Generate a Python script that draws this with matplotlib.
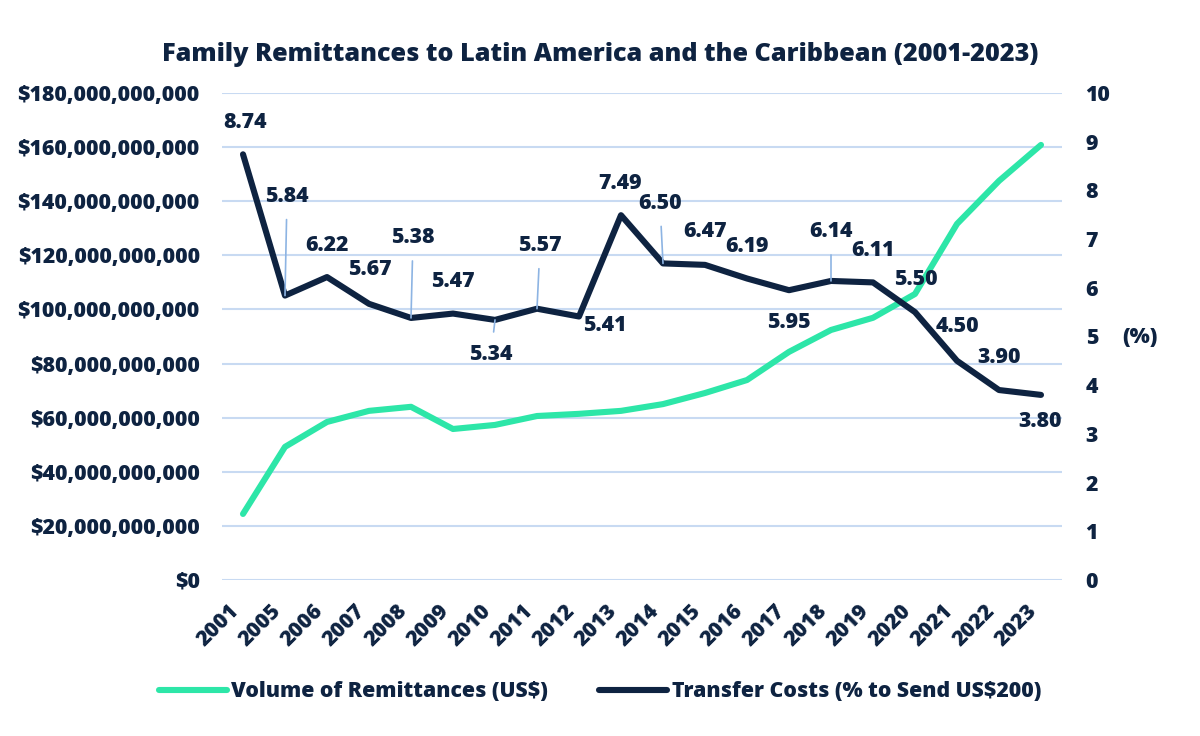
import matplotlib.pyplot as plt
from matplotlib.ticker import FuncFormatter, MultipleLocator

plt.rcParams['font.family'] = ['Open Sans', 'DejaVu Sans']
plt.rcParams['font.weight'] = 800
plt.rcParams['axes.labelweight'] = 800

# datos
years = ['2001', '2005', '2006', '2007', '2008', '2009', '2010', '2011', '2012', '2013',
         '2014', '2015', '2016', '2017', '2018', '2019', '2020', '2021', '2022', '2023']
# volumen de remesas en miles de millones US$
volume_bn = [24.4, 49.2, 58.4, 62.5, 64.0, 55.8, 57.3, 60.6, 61.4, 62.5,
             65.0, 69.1, 73.9, 84.3, 92.4, 96.9, 105.7, 131.6, 147.5, 160.8]
# costo de envio (% para enviar US$200)
cost_pct = [8.74, 5.84, 6.22, 5.67, 5.38, 5.47, 5.34, 5.57, 5.41, 7.49,
            6.50, 6.47, 6.19, 5.95, 6.14, 6.11, 5.50, 4.50, 3.90, 3.80]

# desplazamiento de etiquetas (px) y si llevan linea guia
label_dx = [2, 2, 0, 1, 2, 0, -4, 3, 26, -1, -3, 0, 0, 0, 0, 0, 1, 0, 0, -1]
label_dy = [32, 99, 32, 34, 80, 32, -35, 63, -9, 32, 60, 33, 32, -32, 49, 32, 33, 34, 33, -27]
leader = [False, True, False, False, True, False, True, True, False, False,
          True, False, False, False, True, False, False, False, False, False]

navy = '#0e2341'
green = '#2de6a8'
grid_c = '#c8daf2'
lead_c = '#8db4e3'
fs = 15.3

fig = plt.figure(figsize=(12, 7.36), dpi=100)
ax = fig.add_axes([0.185, 0.212, 0.70, 0.6617])
ax2 = ax.twinx()

x = list(range(len(years)))
l1, = ax.plot(x, volume_bn, color=green, lw=4.4, solid_capstyle='round',
              label='Volume of Remittances (US$)')
l2, = ax2.plot(x, cost_pct, color=navy, lw=4.4, solid_capstyle='round',
               label='Transfer Costs (% to Send US$200)')

ax.set_ylim(0, 180)
ax.yaxis.set_major_locator(MultipleLocator(20))
ax.yaxis.set_major_formatter(FuncFormatter(lambda v, p: f'${v * 1e9:,.0f}'))
ax2.set_ylim(0, 10)
ax2.yaxis.set_major_locator(MultipleLocator(1))
ax.set_xlim(-0.5, len(years) - 0.5)
ax.set_xticks(x)
ax.set_xticklabels(years, rotation=45, ha='right')

ax.grid(axis='y', color=grid_c, lw=1.5)
ax.set_axisbelow(True)
for a in (ax, ax2):
    for s in a.spines.values():
        s.set_visible(False)
ax.tick_params(axis='both', length=0, labelsize=fs, colors=navy)
ax.tick_params(axis='y', pad=16)
ax.tick_params(axis='x', pad=15)
ax2.tick_params(axis='y', length=0, labelsize=fs, colors=navy, pad=17)

ax2.set_ylabel('(%)', rotation=0, fontsize=fs, color=navy, va='center', ha='center',
               fontweight=800)
ax2.yaxis.set_label_coords(1.093, 0.497)

for i, v in enumerate(cost_pct):
    kw = {}
    if leader[i]:
        kw['arrowprops'] = dict(arrowstyle='-', color=lead_c, lw=1.2, shrinkA=7, shrinkB=0)
    ax2.annotate(f'{v:.2f}', xy=(i, v), xytext=(label_dx[i] * 0.72, label_dy[i] * 0.72),
                 textcoords='offset points', ha='center', va='center',
                 fontsize=fs, color=navy, **kw)

fig.suptitle('Family Remittances to Latin America and the Caribbean (2001-2023)',
             x=0.5, y=0.943, fontsize=18.2, color=navy, fontweight=800)

fig.legend(handles=[l1, l2], loc='center', bbox_to_anchor=(0.5, 0.06), ncol=2,
           frameon=False, fontsize=fs, handlelength=3.2, handletextpad=0.2,
           columnspacing=2.4, labelcolor=navy)

fig.savefig('out.png', dpi=100)
